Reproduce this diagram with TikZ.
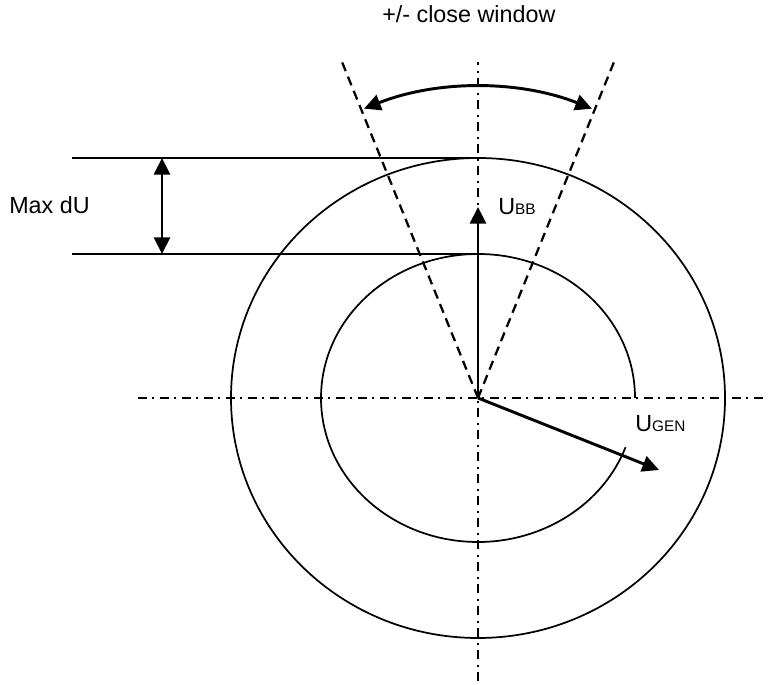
\documentclass[tikz,border=0pt]{standalone}
\usepackage{fontspec}
\setmainfont{Liberation Sans}
\usetikzlibrary{arrows.meta,calc}
\newcommand{\subtxt}{\fontsize{11.5}{13}\selectfont}
\begin{document}
\begin{tikzpicture}[x=0.75pt,y=0.75pt,
  axisline/.style={line width=1.7pt, dash pattern=on 6.5pt off 4.3pt on 1.4pt off 4.3pt},
  winline/.style={line width=1.7pt, dash pattern=on 7pt off 4.5pt},
  thinline/.style={line width=1.1pt},
  ringline/.style={line width=1.3pt},
  vec/.style={line width=2.2pt, -{Triangle[length=12.5pt,width=12pt]}},
  dvec/.style={line width=2.2pt, {Triangle[length=12.5pt,width=12pt]}-{Triangle[length=12.5pt,width=12pt]}},
  lbl/.style={anchor=base west, inner sep=0pt, font=\fontsize{17.5}{21}\selectfont},
]
\useasboundingbox (0,0) rectangle (780,684);
% centre and reference points
\coordinate (O) at (478,286);
\coordinate (vtop) at (478,622);
\coordinate (vbot) at (478,3);
\coordinate (hleft) at (138,286);
\coordinate (hright) at (764,286);
\coordinate (otop) at (478,526);
\coordinate (itop) at (478,430);
\coordinate (h1) at (72,526);
\coordinate (h2) at (72,430);
\coordinate (m1) at (162,526);
\coordinate (m2) at (162,430);
\coordinate (wl) at (342,622);
\coordinate (wr) at (614,622);
\coordinate (ubbtip) at (478,477);
\coordinate (ugentip) at (659,214);
\coordinate (arcstart) at ($(O)+(68.5:311)$);
\coordinate (ostart) at ($(O)+(247,0)$);
\coordinate (istart) at ($(O)+(157,0)$);

% axes
\draw[axisline] (vbot) -- (vtop);
\draw[axisline] (hleft) -- (hright);

% rings
\draw[ringline] (ostart) arc[start angle=0, end angle=360, x radius=247, y radius=240];
\draw[ringline] (istart) arc[start angle=0, end angle=340, x radius=157, y radius=144];

% level lines
\draw[thinline] (h1) -- (otop);
\draw[thinline] (h2) -- (itop);
\draw[dvec] (m1) -- (m2);

% close window
\draw[winline] (O) -- (wl);
\draw[winline] (O) -- (wr);
\draw[dvec] (arcstart) arc[start angle=68.5, end angle=111.5, radius=311];

% vectors
\draw[vec] (O) -- (ubbtip);
\draw[vec] (O) -- (ugentip);

% labels
\node[lbl] (title) at (382,661) {+/- close window};
\node[lbl] (maxdu) at (9,470) {Max dU};
\node[lbl] (ubb) at (498,469) {U{\subtxt BB}};
\node[lbl] (ugen) at (635,252.5) {U{\subtxt GEN}};
\end{tikzpicture}
\end{document}
